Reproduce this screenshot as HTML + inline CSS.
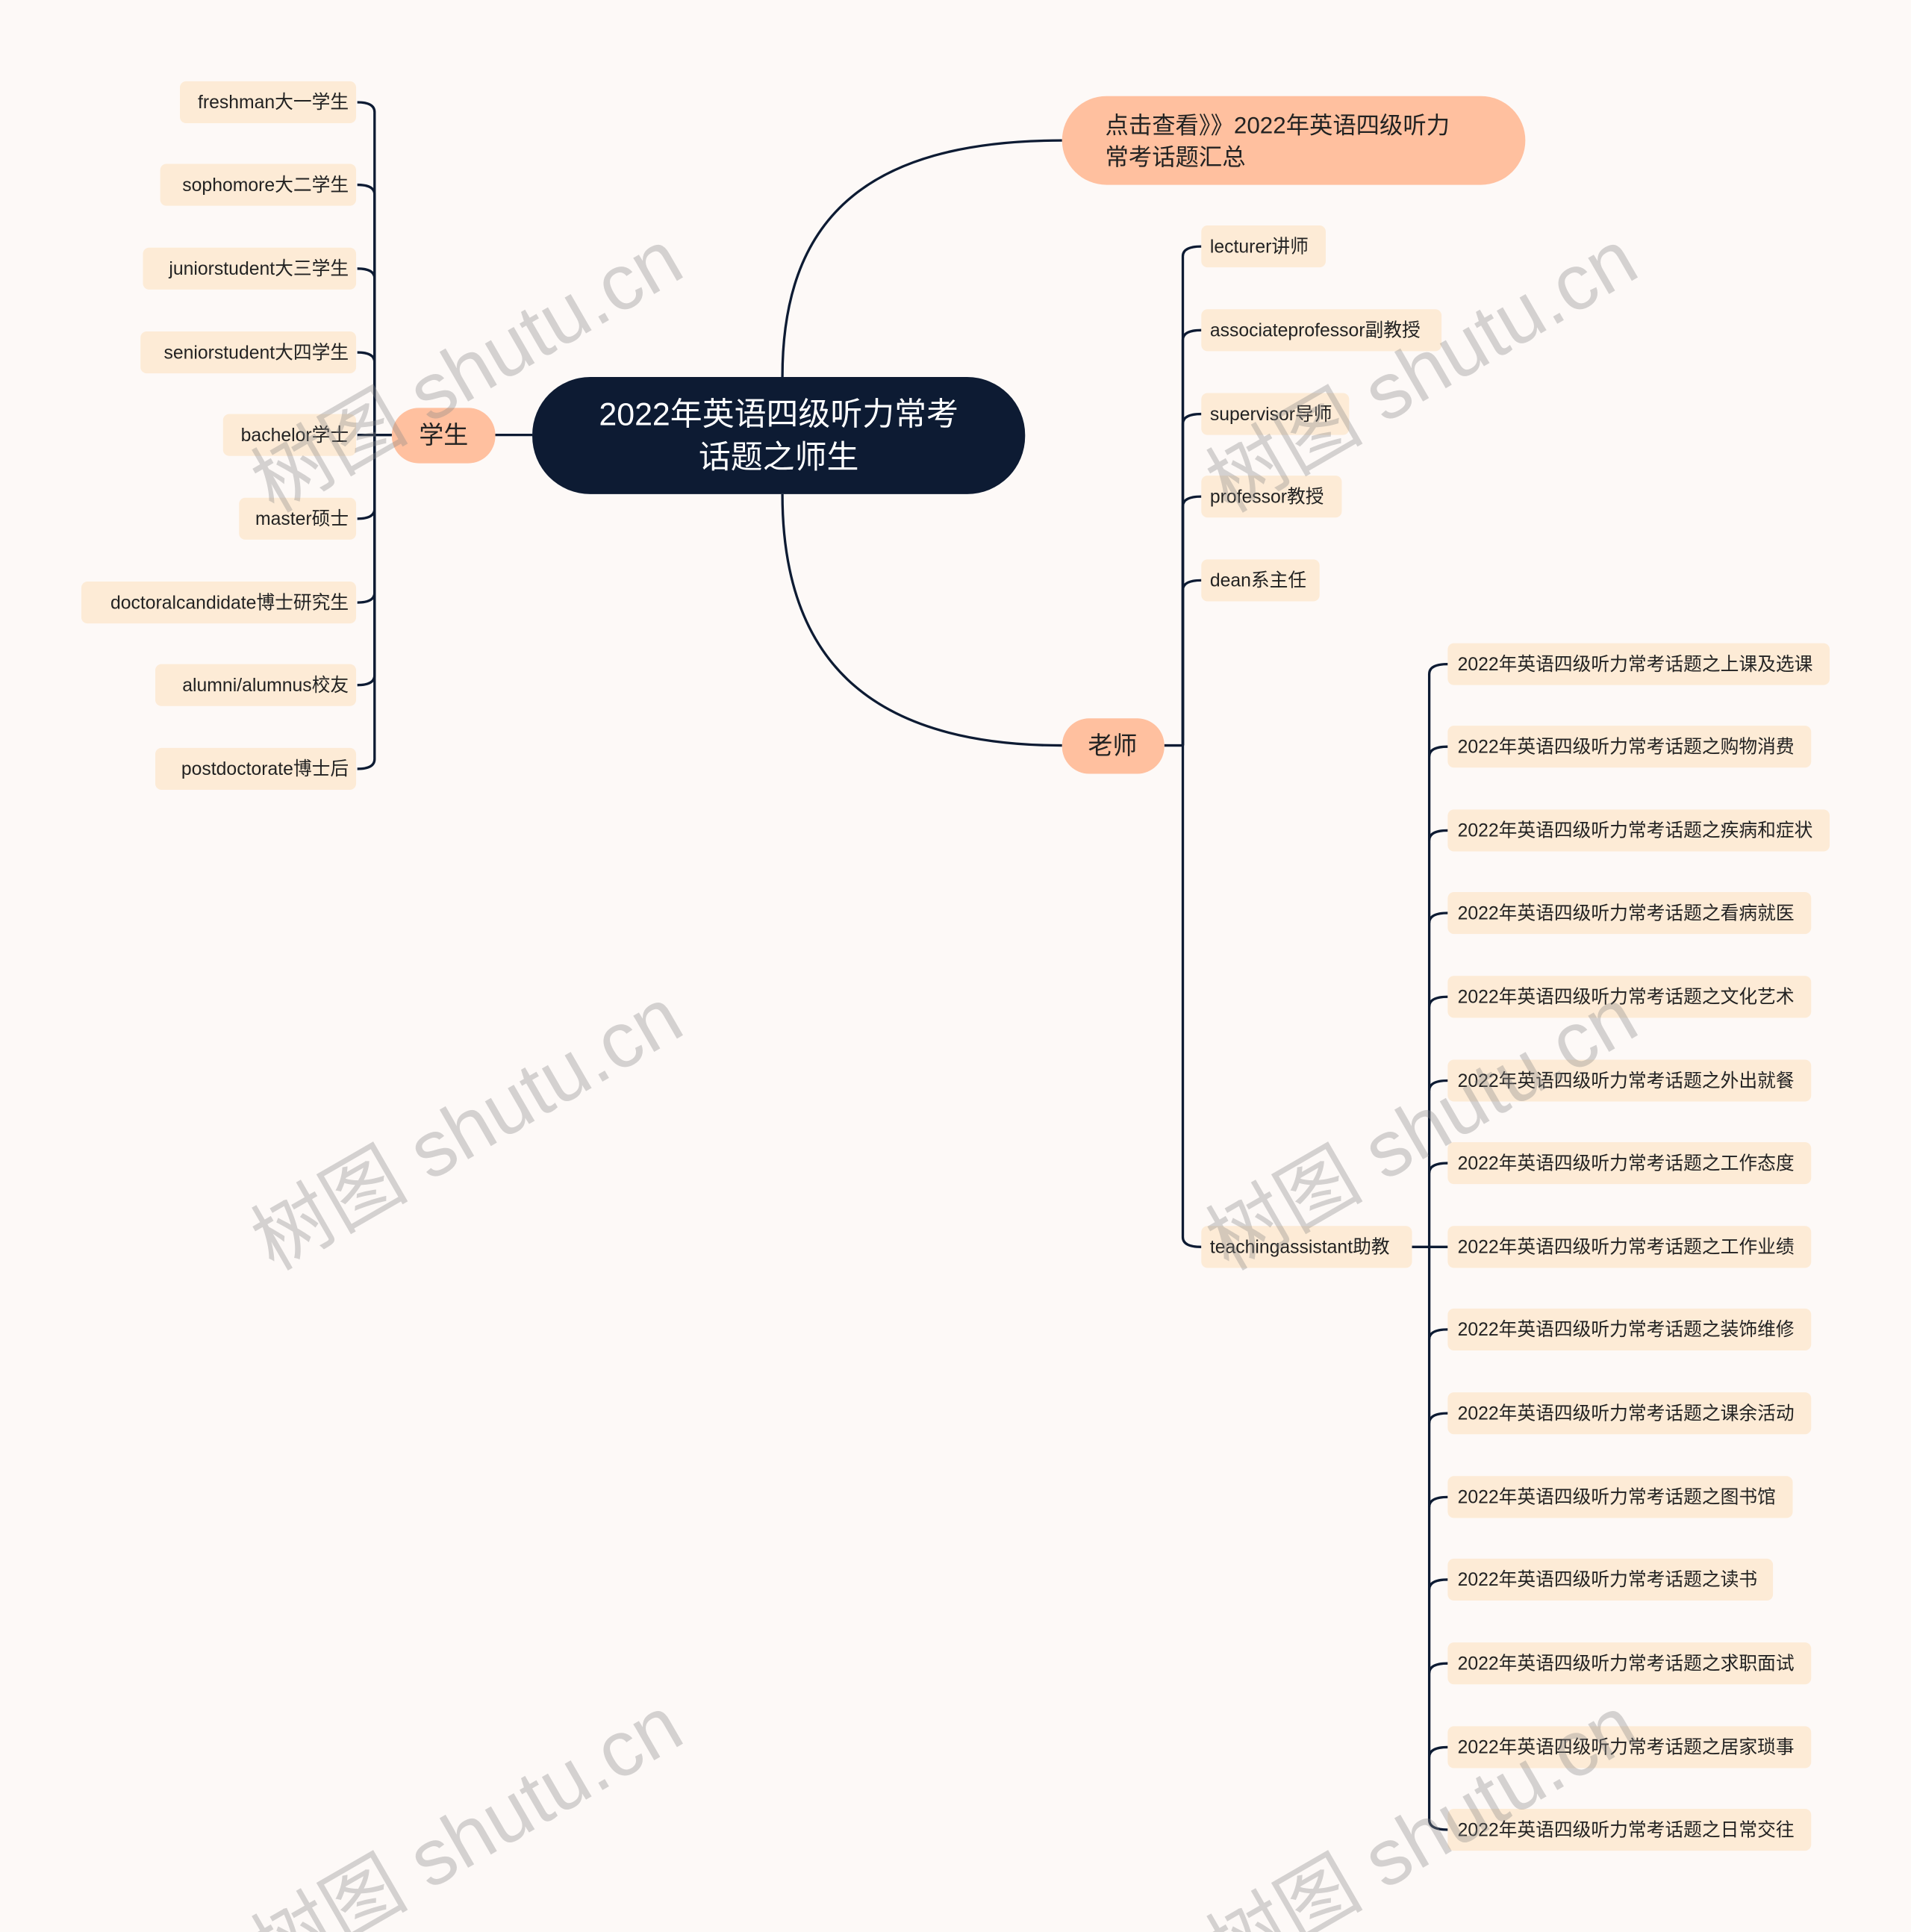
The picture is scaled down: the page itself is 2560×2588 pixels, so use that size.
<!DOCTYPE html>
<html><head><meta charset="utf-8"><style>
html,body{margin:0;padding:0;background:#fdf9f7;}
svg{display:block;}
text{font-family:"Liberation Sans","Noto Sans CJK SC",sans-serif;}
</style></head><body>
<svg width="2560" height="2588" viewBox="0 0 1551 1568" xmlns="http://www.w3.org/2000/svg">
<rect width="1551" height="1568" fill="#fdf9f7"/>
<g fill="none" stroke="#0d1b33" stroke-width="2">
<path d="M402,353 H432"/>
<path d="M635,306 C635,180 700,114 862,114"/>
<path d="M635,401 C635,530 700,605 862,605"/>
<path d="M945,605 H960"/>
<path d="M1146,1012 H1160"/>
<path d="M318,353 H290"/>
</g>
<g fill="none" stroke="#0d1b33" stroke-width="2">
<path d="M318,353 H304 V91 Q304,83 290,83"/>
<path d="M304,353 V158 Q304,150 290,150"/>
<path d="M304,353 V226 Q304,218 290,218"/>
<path d="M304,353 V294 Q304,286 290,286"/>
<path d="M304,353 V413 Q304,421 290,421"/>
<path d="M304,353 V481 Q304,489 290,489"/>
<path d="M304,353 V548 Q304,556 290,556"/>
<path d="M304,353 V616 Q304,624 290,624"/>
<path d="M960,605 V208 Q960,200 975,200"/>
<path d="M960,605 V276 Q960,268 975,268"/>
<path d="M960,605 V344 Q960,336 975,336"/>
<path d="M960,605 V411 Q960,403 975,403"/>
<path d="M960,605 V479 Q960,471 975,471"/>
<path d="M960,605 V1004 Q960,1012 975,1012"/>
<path d="M1160,1012 V547 Q1160,539 1175,539"/>
<path d="M1160,1012 V1477 Q1160,1485 1175,1485"/>
</g>
<g fill="none" stroke="#0d1b33" stroke-width="2">
<path d="M1160,614 Q1160,606 1175,606"/><path d="M1160,682 Q1160,674 1175,674"/><path d="M1160,749 Q1160,741 1175,741"/><path d="M1160,817 Q1160,809 1175,809"/><path d="M1160,885 Q1160,877 1175,877"/><path d="M1160,952 Q1160,944 1175,944"/><path d="M1160,1012 H1175"/><path d="M1160,1087 Q1160,1079 1175,1079"/><path d="M1160,1155 Q1160,1147 1175,1147"/><path d="M1160,1223 Q1160,1215 1175,1215"/><path d="M1160,1290 Q1160,1282 1175,1282"/><path d="M1160,1358 Q1160,1350 1175,1350"/><path d="M1160,1426 Q1160,1418 1175,1418"/>
</g>
<rect x="432" y="306" width="400" height="95" rx="47" fill="#0d1b33"/>
<text x="632" y="345" font-size="26" fill="#fff" text-anchor="middle">2022年英语四级听力常考</text>
<text x="632" y="380" font-size="26" fill="#fff" text-anchor="middle">话题之师生</text>
<rect x="318" y="331" width="84" height="45" rx="22" fill="#ffc09f"/>
<text x="360" y="360" font-size="20" fill="#222" text-anchor="middle">学生</text>
<rect x="862" y="78" width="376" height="72" rx="36" fill="#ffc09f"/>
<text x="897" y="108" font-size="19" fill="#222">点击查看》》2022年英语四级听力</text>
<text x="897" y="134" font-size="19" fill="#222">常考话题汇总</text>
<rect x="862" y="583" width="83" height="45" rx="22" fill="#ffc09f"/>
<text x="903" y="612" font-size="20" fill="#222" text-anchor="middle">老师</text>
<g font-size="15" fill="#222">
<g text-anchor="end">
<rect x="146" y="66" width="143" height="34" rx="5" fill="#fdebd6"/><text x="283" y="88">freshman大一学生</text>
<rect x="130" y="133" width="159" height="34" rx="5" fill="#fdebd6"/><text x="283" y="155">sophomore大二学生</text>
<rect x="116" y="201" width="173" height="34" rx="5" fill="#fdebd6"/><text x="283" y="223">juniorstudent大三学生</text>
<rect x="114" y="269" width="175" height="34" rx="5" fill="#fdebd6"/><text x="283" y="291">seniorstudent大四学生</text>
<rect x="181" y="336" width="108" height="34" rx="5" fill="#fdebd6"/><text x="283" y="358">bachelor学士</text>
<rect x="194" y="404" width="95" height="34" rx="5" fill="#fdebd6"/><text x="283" y="426">master硕士</text>
<rect x="66" y="472" width="223" height="34" rx="5" fill="#fdebd6"/><text x="283" y="494">doctoralcandidate博士研究生</text>
<rect x="126" y="539" width="163" height="34" rx="5" fill="#fdebd6"/><text x="283" y="561">alumni/alumnus校友</text>
<rect x="126" y="607" width="163" height="34" rx="5" fill="#fdebd6"/><text x="283" y="629">postdoctorate博士后</text>
</g>
<rect x="975" y="183" width="101" height="34" rx="5" fill="#fdebd6"/><text x="982" y="205">lecturer讲师</text>
<rect x="975" y="251" width="195" height="34" rx="5" fill="#fdebd6"/><text x="982" y="273">associateprofessor副教授</text>
<rect x="975" y="319" width="120" height="34" rx="5" fill="#fdebd6"/><text x="982" y="341">supervisor导师</text>
<rect x="975" y="386" width="114" height="34" rx="5" fill="#fdebd6"/><text x="982" y="408">professor教授</text>
<rect x="975" y="454" width="96" height="34" rx="5" fill="#fdebd6"/><text x="982" y="476">dean系主任</text>
<rect x="975" y="995" width="171" height="34" rx="5" fill="#fdebd6"/><text x="982" y="1017">teachingassistant助教</text>
<rect x="1175" y="522" width="310" height="34" rx="5" fill="#fdebd6"/><text x="1183" y="544">2022年英语四级听力常考话题之上课及选课</text>
<rect x="1175" y="589" width="295" height="34" rx="5" fill="#fdebd6"/><text x="1183" y="611">2022年英语四级听力常考话题之购物消费</text>
<rect x="1175" y="657" width="310" height="34" rx="5" fill="#fdebd6"/><text x="1183" y="679">2022年英语四级听力常考话题之疾病和症状</text>
<rect x="1175" y="724" width="295" height="34" rx="5" fill="#fdebd6"/><text x="1183" y="746">2022年英语四级听力常考话题之看病就医</text>
<rect x="1175" y="792" width="295" height="34" rx="5" fill="#fdebd6"/><text x="1183" y="814">2022年英语四级听力常考话题之文化艺术</text>
<rect x="1175" y="860" width="295" height="34" rx="5" fill="#fdebd6"/><text x="1183" y="882">2022年英语四级听力常考话题之外出就餐</text>
<rect x="1175" y="927" width="295" height="34" rx="5" fill="#fdebd6"/><text x="1183" y="949">2022年英语四级听力常考话题之工作态度</text>
<rect x="1175" y="995" width="295" height="34" rx="5" fill="#fdebd6"/><text x="1183" y="1017">2022年英语四级听力常考话题之工作业绩</text>
<rect x="1175" y="1062" width="295" height="34" rx="5" fill="#fdebd6"/><text x="1183" y="1084">2022年英语四级听力常考话题之装饰维修</text>
<rect x="1175" y="1130" width="295" height="34" rx="5" fill="#fdebd6"/><text x="1183" y="1152">2022年英语四级听力常考话题之课余活动</text>
<rect x="1175" y="1198" width="280" height="34" rx="5" fill="#fdebd6"/><text x="1183" y="1220">2022年英语四级听力常考话题之图书馆</text>
<rect x="1175" y="1265" width="264" height="34" rx="5" fill="#fdebd6"/><text x="1183" y="1287">2022年英语四级听力常考话题之读书</text>
<rect x="1175" y="1333" width="295" height="34" rx="5" fill="#fdebd6"/><text x="1183" y="1355">2022年英语四级听力常考话题之求职面试</text>
<rect x="1175" y="1401" width="295" height="34" rx="5" fill="#fdebd6"/><text x="1183" y="1423">2022年英语四级听力常考话题之居家琐事</text>
<rect x="1175" y="1468" width="295" height="34" rx="5" fill="#fdebd6"/><text x="1183" y="1490">2022年英语四级听力常考话题之日常交往</text>
</g>
<g font-size="64" fill="#888" fill-opacity="0.35" style="font-family:'Liberation Serif','Noto Serif CJK SC',serif" text-anchor="middle">
<text transform="translate(390,320) rotate(-30)">树图 shutu.cn</text>
<text transform="translate(1165,320) rotate(-30)">树图 shutu.cn</text>
<text transform="translate(390,935) rotate(-30)">树图 shutu.cn</text>
<text transform="translate(1165,935) rotate(-30)">树图 shutu.cn</text>
<text transform="translate(390,1510) rotate(-30)">树图 shutu.cn</text>
<text transform="translate(1165,1510) rotate(-30)">树图 shutu.cn</text>
</g>
</svg>
</body></html>
